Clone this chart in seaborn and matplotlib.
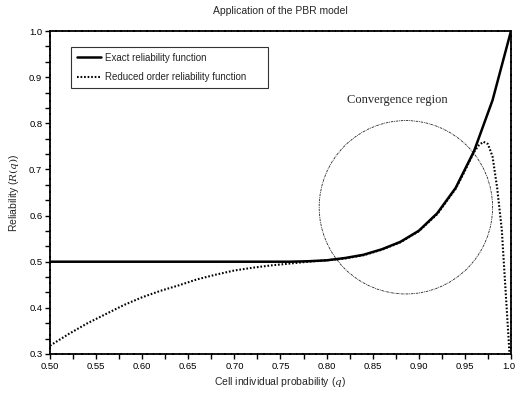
"""
Reliability of the PBR model: exact vs reduced order function
"""

import numpy as np
import pandas as pd
import matplotlib
matplotlib.use("Agg")
import matplotlib.pyplot as plt
from matplotlib.patches import Ellipse
from matplotlib.ticker import MultipleLocator, AutoMinorLocator
import seaborn as sns

# Exact reliability function, sampled every 0.02
q_exact = [0.50, 0.52, 0.54, 0.56, 0.58, 0.60, 0.62, 0.64, 0.66, 0.68,
           0.70, 0.72, 0.74, 0.76, 0.78, 0.80, 0.82, 0.84, 0.86, 0.88,
           0.90, 0.92, 0.94, 0.96, 0.98, 1.00]
r_exact = [0.500, 0.500, 0.500, 0.500, 0.500, 0.500, 0.500, 0.500, 0.500, 0.500,
           0.500, 0.500, 0.500, 0.500, 0.501, 0.503, 0.508, 0.515, 0.527, 0.543,
           0.567, 0.605, 0.660, 0.740, 0.850, 1.000]

# Reduced order reliability function (finer near q = 1)
q_reduced = [0.50, 0.52, 0.54, 0.56, 0.58, 0.60, 0.62, 0.64, 0.66, 0.68,
             0.70, 0.72, 0.74, 0.76, 0.78, 0.80, 0.82, 0.84, 0.86, 0.88,
             0.90, 0.92, 0.94, 0.95, 0.96, 0.965, 0.97, 0.975, 0.98, 0.985,
             0.99, 0.995, 1.00]
r_reduced = [0.318, 0.343, 0.366, 0.386, 0.406, 0.423, 0.437, 0.449, 0.462, 0.472,
             0.481, 0.487, 0.492, 0.496, 0.500, 0.503, 0.507, 0.514, 0.526, 0.542,
             0.566, 0.603, 0.658, 0.697, 0.738, 0.752, 0.760, 0.755, 0.728, 0.660,
             0.570, 0.410, 0.250]

labels = ["Exact reliability function", "Reduced order reliability function"]

# Convergence region
region_center = (0.886, 0.618)
region_label = "Convergence region"

sns.set_style("ticks")
plt.rcParams["font.family"] = ["Liberation Sans", "DejaVu Sans"]
plt.rcParams["mathtext.fontset"] = "dejavuserif"

fig = plt.figure(figsize=(5.15, 3.96), dpi=100)
ax = fig.add_axes([0.0971, 0.1061, 0.8951, 0.8156])

df_exact = pd.DataFrame({"q": q_exact, "R": r_exact})
df_reduced = pd.DataFrame({"q": q_reduced, "R": r_reduced})

sns.lineplot(data=df_exact, x="q", y="R", ax=ax, color="black", lw=1.8,
             label=labels[0])
sns.lineplot(data=df_reduced, x="q", y="R", ax=ax, color="black", lw=1.5,
             linestyle=(0, (0.8, 0.9)), label=labels[1])

ax.set_xlim(0.5, 1.0)
ax.set_ylim(0.3, 1.0)

# circle is round on screen -> ellipse in data units (axes 461 x 323 px)
w_data = 2 * 86.7 / 922
h_data = 2 * 86.7 / 461.4
ax.add_patch(Ellipse(region_center, w_data, h_data, fill=False,
                     edgecolor="0.15", lw=0.6, linestyle=(0, (3, 1, 1, 1))))
ax.text(0.877, 0.851, region_label, family=["Liberation Serif", "DejaVu Serif"],
        fontsize=9, ha="center", va="center")

ax.xaxis.set_major_locator(MultipleLocator(0.05))
ax.xaxis.set_minor_locator(AutoMinorLocator(2))
ax.yaxis.set_major_locator(MultipleLocator(0.1))
ax.yaxis.set_minor_locator(AutoMinorLocator(3))
ax.xaxis.set_major_formatter(plt.FormatStrFormatter("%.2f"))
ax.yaxis.set_major_formatter(plt.FormatStrFormatter("%.1f"))
ax.tick_params(which="both", direction="out", length=3.5, width=1.0,
               labelsize=6.8, pad=2, colors="black")

for side in ["left", "right", "top", "bottom"]:
    ax.spines[side].set_visible(True)
    ax.spines[side].set_linewidth(1.3)
    ax.spines[side].set_linestyle((0, (3, 0.6)))
    ax.spines[side].set_color("black")

ax.set_xlabel("Cell individual probability ($q$)", fontsize=7.5, labelpad=3)
ax.set_ylabel("Reliability ($R(q)$)", fontsize=7.5, labelpad=6)
ax.set_title("Application of the PBR model", fontsize=7.5, pad=12)

leg = ax.legend(loc="upper left", bbox_to_anchor=(0.0456, 0.812, 0.4267, 0.139),
                mode="expand", borderaxespad=0, fontsize=7, frameon=True,
                fancybox=False, handlelength=2.5, handletextpad=0.4,
                labelspacing=1.0, borderpad=0.6)
leg.get_frame().set_edgecolor("black")
leg.get_frame().set_linewidth(0.8)

fig.savefig("out.png", dpi=100)
